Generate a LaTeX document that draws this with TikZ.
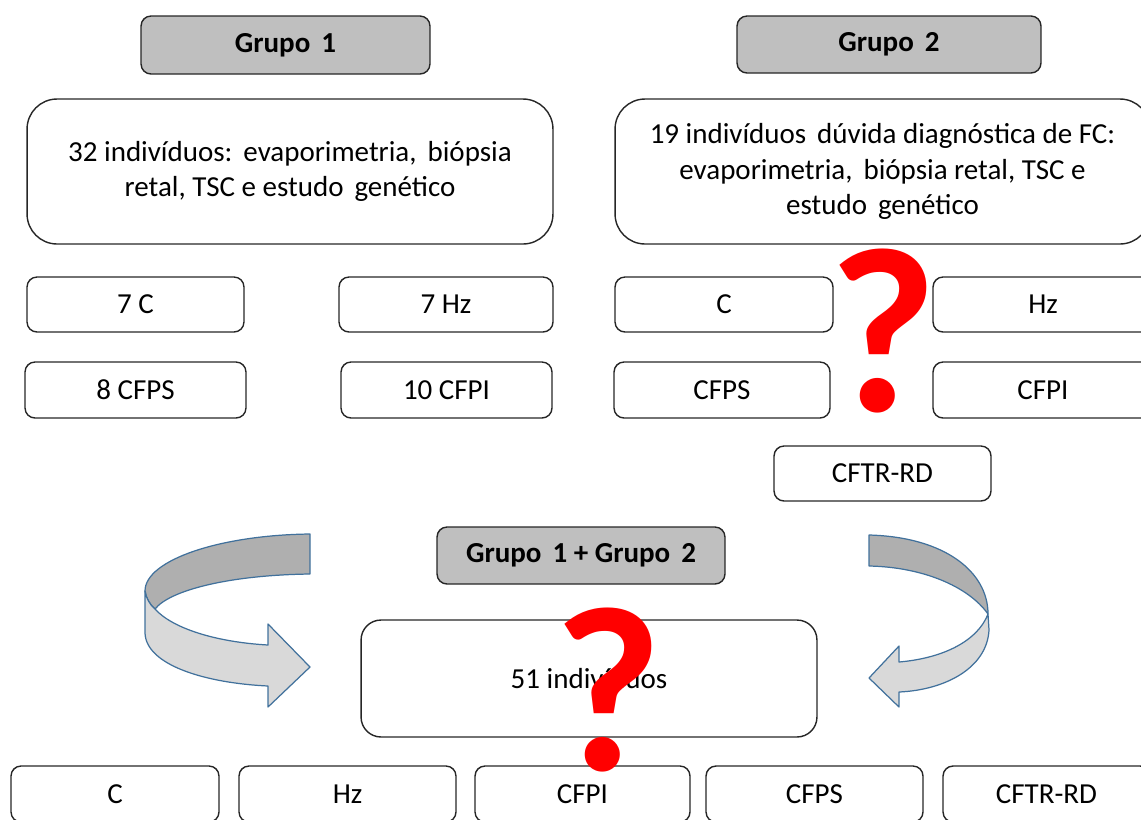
\documentclass[tikz,border=0pt]{standalone}
\usepackage{fontspec}
\setmainfont{Carlito}
\usepackage{tikz}
\definecolor{boxgray}{HTML}{BFBFBF}
\definecolor{bandDark}{HTML}{AFAFAF}
\definecolor{bandLight}{HTML}{D9D9D9}
\definecolor{bandEdge}{HTML}{41719C}
\newcommand{\boxfont}{\fontsize{16.5}{20}\selectfont}
\newcommand{\wsp}{\hspace{0.38em}}
\begin{document}
\begin{tikzpicture}[x=0.02cm,y=-0.02cm,
  box/.style={draw=black!85,line width=0.8pt,rounded corners=0.2cm,inner sep=0pt,
    minimum height=1.1cm,align=center,font=\boxfont},
  bigbox/.style={box,rounded corners=0.6cm,minimum height=2.9cm},
  grupo/.style={box,fill=boxgray,font=\boxfont\bfseries},
  band/.style={draw=bandEdge,line width=0.7pt,line join=round},
  query/.style={text=red,inner sep=0pt,font=\fontsize{134}{134}\selectfont\bfseries}]
\useasboundingbox (0,0) rectangle (1141,819);
\clip (0,0) rectangle (1141,819);
\node[grupo,minimum width=5.78cm,minimum height=1.16cm] (g1) at (285.5,45) {Grupo\wsp1};
\node[grupo,minimum width=6.08cm,minimum height=1.14cm] (g2) at (889,44.5) {Grupo\wsp2};
\node[bigbox,minimum width=10.52cm] (ind1) at (290,171.5)
  {32 indivíduos:\wsp evaporimetria,\wsp biópsia\\retal, TSC e estudo\wsp genético};
\node[bigbox,minimum width=10.7cm] (ind2) at (882.5,171.5)
  {19 indivíduos\wsp dúvida diagnóstica de FC:\\evaporimetria,\wsp biópsia retal, TSC e\\estudo\wsp genético};
\node[box,minimum width=4.34cm] (c1) at (135.5,304.5) {7 C};
\node[box,minimum width=4.28cm] (hz1) at (446,304.5) {7 Hz};
\node[box,minimum width=4.42cm,minimum height=1.12cm] (ps1) at (135.5,390) {8 CFPS};
\node[box,minimum width=4.22cm,minimum height=1.12cm] (pi1) at (446.5,390) {10 CFPI};
\node[box,minimum width=4.36cm] (c2) at (724,304.5) {C};
\node[box,minimum width=4.4cm] (hz2) at (1043,304.5) {Hz};
\node[box,minimum width=4.32cm,minimum height=1.12cm] (ps2) at (722,390) {CFPS};
\node[box,minimum width=4.4cm,minimum height=1.12cm] (pi2) at (1043,390) {CFPI};
\node[box,minimum width=4.34cm] (rd2) at (882.5,473.5) {CFTR-RD};
\node[grupo,minimum width=5.76cm,minimum height=1.14cm] (g12) at (581,555.5) {Grupo\wsp1 + Grupo\wsp2};
\node[box,rounded corners=0.4cm,minimum width=9.12cm,minimum height=2.34cm] (ind12) at (589,678.5) {51 indivíduos};
\node[box,minimum width=4.16cm,minimum height=1.12cm] (c3) at (115,794) {C};
\node[box,minimum width=4.34cm,minimum height=1.12cm] (hz3) at (347.5,794) {Hz};
\node[box,minimum width=4.3cm,minimum height=1.12cm] (pi3) at (582.5,794) {CFPI};
\node[box,minimum width=4.34cm,minimum height=1.12cm] (ps3) at (814.5,794) {CFPS};
\node[box,minimum width=4.14cm,minimum height=1.12cm] (rd3) at (1046.5,794) {CFTR-RD};
\draw[band,fill=bandDark] (310,534) .. controls (220,535) and (145,560) .. (145,591)
  .. controls (146,598) and (150,605) .. (155,609)
  .. controls (170,590) and (230,575) .. (310,574) -- cycle;
\draw[band,fill=bandLight] (145,591) -- (145,633) .. controls (146,665) and (205,683) .. (268,686)
  -- (268,707) -- (310,667) -- (268,624) -- (268,645)
  .. controls (215,642) and (172,628) .. (155,609)
  .. controls (150,605) and (146,598) .. (145,591) -- cycle;
\draw[band,fill=bandDark] (869,535) .. controls (945,537) and (988,572) .. (988,614)
  .. controls (968,586) and (922,567) .. (869,566) -- cycle;
\draw[band,fill=bandLight] (988,614) -- (989,630) .. controls (987,668) and (945,690) .. (899,692)
  -- (899,707) -- (869,678) -- (899,646) -- (899,662)
  .. controls (945,658) and (978,640) .. (988,614) -- cycle;
\node[query] (q2) at (883,331) {?};
\node[query] (q12) at (608,690) {?};
\end{tikzpicture}
\end{document}
